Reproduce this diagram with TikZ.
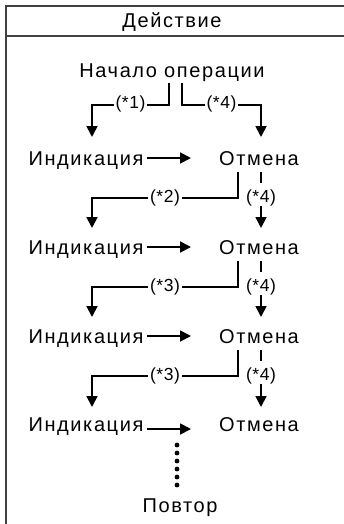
\documentclass[tikz,border=0pt]{standalone}
\usepackage{fontspec}
\setmainfont{Liberation Sans}
\newfontfamily\mainf{Liberation Sans}[LetterSpace=8]
\newfontfamily\labf{Liberation Sans}[LetterSpace=3]
\usetikzlibrary{arrows.meta,calc}
\tikzset{
  frame/.style={line width=1.6pt,draw=black!75},
  txt/.style={inner sep=0pt,font=\mainf\fontsize{20}{23}\selectfont,text height=14pt,text depth=0pt,anchor=center},
  lab/.style={fill=white,inner xsep=2pt,inner ysep=1pt,font=\labf\fontsize{17.5}{20}\selectfont,text height=12pt,text depth=4pt},
  line/.style={line width=1.8pt},
  arr/.style={line width=1.8pt,-{Triangle[width=11pt,length=11pt]}}
}
\begin{document}
\begin{tikzpicture}[x=1pt,y=-1pt]
\useasboundingbox (0,0) rectangle (344,524);
% frame
\draw[frame] (344,6) -- (6,6) -- (6,524);
\draw[frame] (6,36) -- (344,36);
\node[txt] (title) at (172,21) {Действие};
\node[txt] (start) at (172,71) {Начало операции};
\node[txt] (ind1) at (86,158) {Индикация};
\node[txt] (ot1) at (259,158) {Отмена};
\node[txt] (ind2) at (86,247) {Индикация};
\node[txt] (ot2) at (259,247) {Отмена};
\node[txt] (ind3) at (86,336) {Индикация};
\node[txt] (ot3) at (259,336) {Отмена};
\node[txt] (ind4) at (86,424) {Индикация};
\node[txt] (ot4) at (259,424) {Отмена};
\node[txt] (rep) at (180,505) {Повтор};
% top branches
\draw[arr] ($(start.center)+(-3,12)$) |- node[lab,pos=0.75]{(*1)} ($(ind1.center)+(6,-53)$) -- ($(ind1.center)+(6,-21)$);
\draw[arr] ($(start.center)+(10,12)$) |- node[lab,pos=0.75]{(*4)} ($(ot1.center)+(2,-53)$) -- ($(ot1.center)+(2,-21)$);
% horizontal arrows
\draw[arr] ($(ind1.center)+(61,0)$) -- ($(ot1.center)+(-68,0)$);
\draw[arr] ($(ind2.center)+(61,0)$) -- ($(ot2.center)+(-68,0)$);
\draw[arr] ($(ind3.center)+(61,0)$) -- ($(ot3.center)+(-68,0)$);
\draw[arr] ($(ind4.center)+(61,5)$) -- ($(ot4.center)+(-68,5)$);
% branches between rows
\draw[arr] ($(ot1.center)+(-21,14)$) -- ($(ot1.center)+(-21,40)$) -| node[lab,pos=0.25]{(*2)} ($(ind2.center)+(6,-19)$);
\draw[arr] ($(ot1.center)+(2,14)$) -- ($(ot1.center)+(2,25)$) ($(ot1.center)+(2,48)$) -- ($(ot2.center)+(2,-19)$);
\node[lab,fill=none] (l1) at ($(ot1.center)+(2,40)$) {(*4)};
\draw[arr] ($(ot2.center)+(-21,14)$) -- ($(ot2.center)+(-21,40)$) -| node[lab,pos=0.25]{(*3)} ($(ind3.center)+(6,-19)$);
\draw[arr] ($(ot2.center)+(2,14)$) -- ($(ot2.center)+(2,25)$) ($(ot2.center)+(2,48)$) -- ($(ot3.center)+(2,-19)$);
\node[lab,fill=none] (l2) at ($(ot2.center)+(2,40)$) {(*4)};
\draw[arr] ($(ot3.center)+(-21,14)$) -- ($(ot3.center)+(-21,40)$) -| node[lab,pos=0.25]{(*3)} ($(ind4.center)+(6,-17)$);
\draw[arr] ($(ot3.center)+(2,14)$) -- ($(ot3.center)+(2,25)$) ($(ot3.center)+(2,48)$) -- ($(ot4.center)+(2,-17)$);
\node[lab,fill=none] (l3) at ($(ot3.center)+(2,40)$) {(*4)};
% dots
\foreach \k in {0,...,5} \fill ($(rep.center)+(-3,-60+\k*8)$) circle (2.4pt);
\end{tikzpicture}
\end{document}
